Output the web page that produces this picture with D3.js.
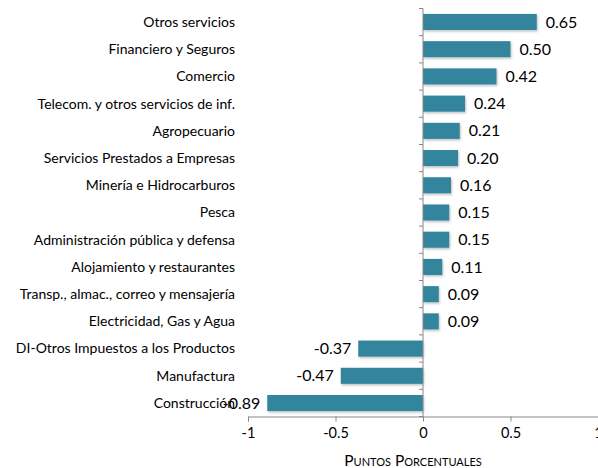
<!DOCTYPE html>
<html>
<head>
<meta charset="utf-8">
<script src="https://cdn.jsdelivr.net/npm/d3@7"></script>
<style>
  body { margin: 0; background: #fff; }
  text { font-family: Lato, "Open Sans", sans-serif; fill: #000; }
</style>
</head>
<body>
<div id="chart"></div>
<script>
// sector contributions, in percentage points
var sectors = ["Otros servicios", "Financiero y Seguros", "Comercio",
  "Telecom. y otros servicios de inf.", "Agropecuario", "Servicios Prestados a Empresas",
  "Minería e Hidrocarburos", "Pesca", "Administración pública y defensa",
  "Alojamiento y restaurantes", "Transp., almac., correo y mensajería",
  "Electricidad, Gas y Agua", "DI-Otros Impuestos a los Productos", "Manufactura", "Construcción"];
var values = [0.65, 0.50, 0.42, 0.24, 0.21, 0.20, 0.16, 0.15, 0.15, 0.11, 0.09, 0.09, -0.37, -0.47, -0.89];
var xTicks = [-1, -0.5, 0, 0.5, 1];

var width = 598, height = 468;
var svg = d3.select("#chart").append("svg")
  .attr("width", width)
  .attr("height", height);

var x = d3.scaleLinear().domain([-1, 1]).range([248, 598]);
var y = d3.scaleBand().domain(d3.range(sectors.length)).range([8.5, 416.5]).paddingInner(0.41).paddingOuter(0.2);
var band = d3.scaleBand().domain(d3.range(sectors.length)).range([8.5, 416.5]);

// soft shadow like the original
var defs = svg.append("defs");
var f = defs.append("filter").attr("id", "shadow").attr("x", "-5%").attr("y", "-20%").attr("width", "115%").attr("height", "160%");
f.append("feDropShadow").attr("dx", 1).attr("dy", 1.5).attr("stdDeviation", 1).attr("flood-color", "#000").attr("flood-opacity", 0.25);

var data = sectors.map(function (s, i) { return { name: s, value: values[i], i: i }; });

svg.selectAll(".bar")
  .data(data)
  .enter().append("rect")
    .attr("class", "bar")
    .attr("x", function (d) { return x(Math.min(0, d.value)); })
    .attr("y", function (d) { return y(d.i); })
    .attr("width", function (d) { return Math.abs(x(d.value) - x(0)); })
    .attr("height", y.bandwidth())
    .attr("fill", "#31859c")
    .attr("filter", "url(#shadow)");

// value labels
svg.selectAll(".val")
  .data(data)
  .enter().append("text")
    .attr("class", "val")
    .attr("x", function (d) { return d.value >= 0 ? x(d.value) + 9 : x(d.value) - 7; })
    .attr("y", function (d) { return y(d.i) + y.bandwidth() / 2; })
    .attr("dy", "0.35em")
    .attr("text-anchor", function (d) { return d.value >= 0 ? "start" : "end"; })
    .style("font-size", "16px")
    .text(function (d) { return d.value.toFixed(2); });

// category labels
svg.selectAll(".cat")
  .data(data)
  .enter().append("text")
    .attr("class", "cat")
    .attr("x", 235)
    .attr("y", function (d) { return y(d.i) + y.bandwidth() / 2; })
    .attr("dy", "0.35em")
    .attr("text-anchor", "end")
    .style("font-size", "14px")
    .text(function (d) { return d.name; });

// vertical axis at zero with ticks on band boundaries
var vAxis = svg.append("g");
vAxis.append("line")
  .attr("x1", x(0)).attr("x2", x(0))
  .attr("y1", 8.5).attr("y2", 416.5)
  .attr("stroke", "#888");
vAxis.selectAll("line.t")
  .data(d3.range(sectors.length + 1))
  .enter().append("line")
    .attr("class", "t")
    .attr("x1", x(0) - 4).attr("x2", x(0))
    .attr("y1", function (i) { return i < sectors.length ? band(i) : 416.5; })
    .attr("y2", function (i) { return i < sectors.length ? band(i) : 416.5; })
    .attr("stroke", "#888");

// x axis
var xAxis = svg.append("g")
  .attr("transform", "translate(0,416.5)")
  .call(d3.axisBottom(x).tickValues(xTicks).tickSize(5).tickPadding(6)
    .tickFormat(function (d) { return d === 0 ? "0" : String(d); }));
xAxis.select(".domain").attr("stroke", "#888");
xAxis.selectAll(".tick line").attr("stroke", "#888");
xAxis.selectAll(".tick text").style("font-size", "14.5px").attr("fill", "#000");

// axis title in small caps
svg.append("text")
  .attr("x", 413)
  .attr("y", 466)
  .attr("text-anchor", "middle")
  .style("font-size", "15.5px")
  .style("font-variant", "small-caps")
  .text("Puntos Porcentuales");
</script>
</body>
</html>
